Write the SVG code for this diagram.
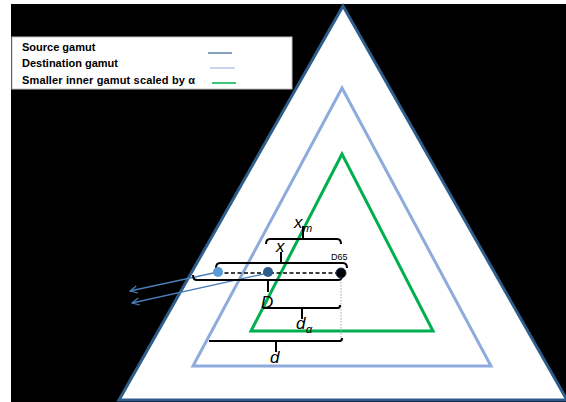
<svg xmlns="http://www.w3.org/2000/svg" width="566" height="402" viewBox="0 0 566 402">
<defs>
<style>
.leg{font-family:"Liberation Sans",Arial,sans-serif;font-weight:bold;font-size:11px;fill:#000}
.lab{font-family:"Liberation Sans",Arial,sans-serif;font-style:italic;font-size:17px;fill:#000}
.sub{font-family:"Liberation Sans",Arial,sans-serif;font-style:italic;font-size:11px;fill:#000}
.br{fill:none;stroke:#000;stroke-width:2}
.arr{fill:none;stroke:#4a7ebb;stroke-width:1.3}
</style>
<marker id="ah" viewBox="0 0 10 10" refX="9" refY="5" markerWidth="9" markerHeight="9" orient="auto" markerUnits="userSpaceOnUse">
<path d="M1,1 L9,5 L1,9" fill="none" stroke="#4a7ebb" stroke-width="1.3"/>
</marker>
</defs>
<rect x="0" y="0" width="566" height="402" fill="#fff"/>
<rect x="11" y="4" width="555" height="398" fill="#000"/>
<g id="source-gamut">
<polygon points="343,6 119,400 567,400" fill="#fff" stroke="#2e5d8c" stroke-width="3"/>
</g>
<g id="destination-gamut">
<polygon points="342,88 193,366 491,366" fill="none" stroke="#8faadc" stroke-width="3"/>
</g>
<g id="inner-gamut">
<polygon points="342,154 251,331 433,331" fill="none" stroke="#00b050" stroke-width="3"/>
</g>
<g id="legend">
<rect x="12" y="37" width="280" height="52" fill="#fff" stroke="#bfbfbf" stroke-width="1"/>
<text class="leg" x="22" y="51">Source gamut</text>
<text class="leg" x="22" y="67">Destination gamut</text>
<text class="leg" x="22" y="84" textLength="173">Smaller inner gamut scaled by α</text>
<line x1="208" y1="53" x2="232" y2="53" stroke="#5f80a6" stroke-width="1.5"/>
<line x1="210" y1="68" x2="235" y2="68" stroke="#b4c7e7" stroke-width="1.5"/>
<line x1="212" y1="83" x2="236" y2="83" stroke="#00b050" stroke-width="1.5"/>
</g>
<g id="connectors">
<line class="arr" x1="218" y1="272" x2="130" y2="291" marker-end="url(#ah)"/>
<line class="arr" x1="268" y1="273" x2="132" y2="303" marker-end="url(#ah)"/>
<line x1="218" y1="273" x2="341" y2="273" stroke="#000" stroke-width="1.3" stroke-dasharray="4,2.5"/>
<line x1="341" y1="273" x2="341" y2="341" stroke="#a6a6a6" stroke-width="1" stroke-dasharray="1.5,1.5"/>
</g>
<g id="bracket-xm">
<path class="br" d="M266,244 Q266,239 270,239 L337,239 Q341,239 341,244 M303,239 L303,226"/>
<text class="lab" x="294" y="228">x</text>
<text class="sub" x="303" y="232">m</text>
</g>
<g id="bracket-x">
<path class="br" d="M216,268 Q216,263 220,263 L343,263 Q347,263 347,268 M281,263 L281,252"/>
<text class="lab" x="276" y="252">x</text>
<text font-family="Liberation Sans,Arial,sans-serif" font-size="9" x="331" y="260">D65</text>
</g>
<g id="bracket-D">
<path class="br" d="M193,275 Q193,280 197,280 L338,280 Q342,280 342,275 M268,280 L268,292"/>
<text class="lab" x="261" y="308">D</text>
</g>
<g id="bracket-da">
<path class="br" d="M263,308 L338,308 Q340,308 340,305 M302,308 L302,319"/>
<text class="lab" x="296" y="329">d</text>
<text class="sub" x="306" y="333">α</text>
</g>
<g id="bracket-d">
<path class="br" d="M209,341 L340,341 Q342,341 342,338 M276,341 L276,352"/>
<text class="lab" x="270" y="363">d</text>
</g>
<g id="points">
<circle cx="218" cy="272" r="5" fill="#5b9bd5"/>
<circle cx="268" cy="272" r="5" fill="#2e5d8c"/>
<circle cx="341" cy="273" r="5" fill="#000" stroke="#1f3864" stroke-width="1"/>
</g>
</svg>
